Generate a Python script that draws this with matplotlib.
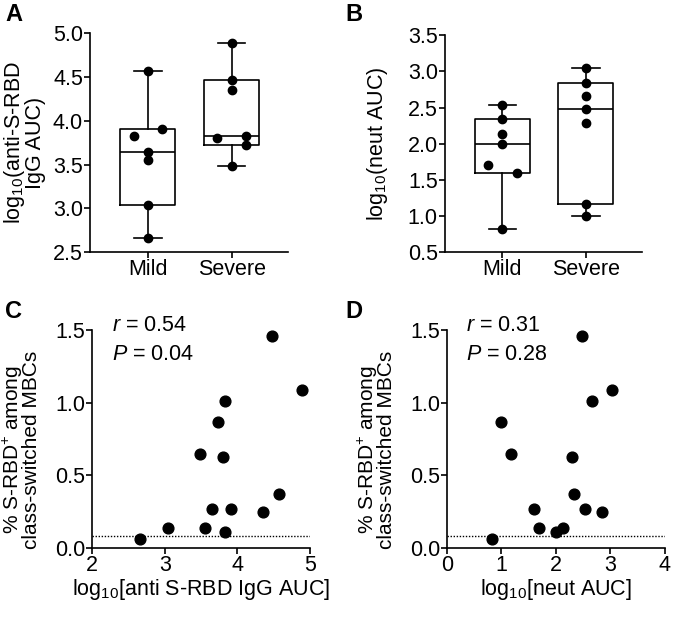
import numpy as np
import matplotlib
matplotlib.use("Agg")
import matplotlib.pyplot as plt

# Data (one entry per donor)
groups = ["Mild", "Severe"]
mild_igg = [2.66, 3.04, 3.55, 3.65, 3.83, 3.91, 4.57]
mild_neut = [0.82, 1.70, 2.14, 1.60, 2.00, 2.53, 2.34]
mild_pct = [0.06, 0.14, 0.14, 0.27, 0.11, 0.27, 0.37]
severe_igg = [3.49, 3.73, 3.80, 3.83, 4.35, 4.47, 4.89]
severe_neut = [1.17, 1.00, 2.29, 2.66, 2.84, 2.48, 3.04]
severe_pct = [0.65, 0.87, 0.63, 1.01, 0.25, 1.46, 1.09]
cutoff = 0.085
stats_c = ("0.54", "0.04")
stats_d = ("0.31", "0.28")

# horizontal nudges so overlapping dots stay visible (style only)
nudge_igg = [[0, 0, 0, 0, -0.17, 0.17, 0], [0, 0.17, -0.17, 0.17, 0, 0, 0]]
nudge_neut = [[0, -0.17, 0, 0.17, 0, 0, 0], [0, 0, 0, 0, 0, 0, 0]]

FS = 15.5
plt.rcParams["font.family"] = ["Liberation Sans", "DejaVu Sans"]
plt.rcParams["mathtext.fontset"] = "custom"
plt.rcParams["mathtext.rm"] = "Liberation Sans"
plt.rcParams["mathtext.it"] = "Liberation Sans:italic"
plt.rcParams["font.size"] = FS

fig = plt.figure(figsize=(6.77, 6.18), dpi=100)


def style(ax):
    ax.spines["top"].set_visible(False)
    ax.spines["right"].set_visible(False)
    for s in ["left", "bottom"]:
        ax.spines[s].set_linewidth(1.2)
    ax.tick_params(width=1.2, length=4, labelsize=FS, pad=1)


def box_panel(ax, data, nudges, ylim, yticks):
    stats = []
    for vals in data:
        v = np.array(vals)
        q1, med, q3 = np.percentile(v, [25, 50, 75], method="weibull")
        stats.append(dict(med=med, q1=q1, q3=q3, whislo=v.min(), whishi=v.max(), fliers=[]))
    ax.bxp(stats, positions=[1, 2], widths=0.66, showfliers=False,
           boxprops=dict(color="black", linewidth=1.2),
           whiskerprops=dict(color="black", linewidth=1.2),
           capprops=dict(color="black", linewidth=1.2),
           medianprops=dict(color="black", linewidth=1.2))
    for i, vals in enumerate(data):
        xs = np.full(len(vals), i + 1.0) + np.array(nudges[i])
        ax.plot(xs, vals, "o", color="black", markersize=6, zorder=3)
    ax.set_xlim(0.31, 2.67)
    ax.set_ylim(*ylim)
    ax.set_yticks(yticks)
    ax.set_yticklabels([f"{t:.1f}" for t in yticks])
    ax.set_xticks([1, 2])
    ax.set_xticklabels(groups)
    style(ax)


# Panel A
axA = fig.add_axes([0.133, 0.592, 0.292, 0.354])
box_panel(axA, [mild_igg, severe_igg], nudge_igg, (2.5, 5.0), np.arange(2.5, 5.01, 0.5))
axA.set_ylabel("log$_{10}$(anti-S-RBD\nIgG AUC)", linespacing=0.85)
axA.yaxis.set_label_coords(-0.225, 0.5)

# Panel B
axB = fig.add_axes([0.657, 0.592, 0.291, 0.351])
box_panel(axB, [mild_neut, severe_neut], nudge_neut, (0.5, 3.5), np.arange(0.5, 3.51, 0.5))
axB.set_ylabel("log$_{10}$(neut AUC)")
axB.yaxis.set_label_coords(-0.28, 0.5)


def scatter_panel(ax, x, y, xlim, xticks, stats, xlabel, lab_x):
    ax.scatter(x, y, s=60, color="black", zorder=3, clip_on=False)
    ax.axhline(cutoff, color="black", linestyle=(0, (1, 1.2)), linewidth=1.0)
    ax.set_xlim(*xlim)
    ax.set_xticks(xticks)
    ax.set_ylim(0, 1.5)
    ax.set_yticks([0, 0.5, 1.0, 1.5])
    ax.set_yticklabels(["0.0", "0.5", "1.0", "1.5"])
    ax.set_ylabel("% S-RBD$^{+}$ among\nclass-switched MBCs", fontsize=15, linespacing=0.78)
    ax.yaxis.set_label_coords(lab_x, 0.45)
    ax.set_xlabel(xlabel, labelpad=1)
    ax.text(0.09, 1.02, f"$r$ = {stats[0]}", transform=ax.transAxes, fontsize=FS, va="center")
    ax.text(0.09, 0.89, f"$P$ = {stats[1]}", transform=ax.transAxes, fontsize=FS, va="center")
    style(ax)


# Panel C
axC = fig.add_axes([0.136, 0.113, 0.322, 0.353])
scatter_panel(axC, mild_igg + severe_igg, mild_pct + severe_pct, (2, 5), [2, 3, 4, 5],
              stats_c, "log$_{10}$[anti S-RBD IgG AUC]", -0.235)

# Panel D
axD = fig.add_axes([0.660, 0.113, 0.322, 0.353])
scatter_panel(axD, mild_neut + severe_neut, mild_pct + severe_pct, (0, 4), [0, 1, 2, 3, 4],
              stats_d, "log$_{10}$[neut AUC]", -0.235)

# Panel letters
for lab, x, y in [("A", 0.008, 0.995), ("B", 0.51, 0.995), ("C", 0.008, 0.515), ("D", 0.51, 0.515)]:
    fig.text(x, y, lab, fontsize=17, fontweight="bold", va="top", ha="left")

fig.savefig("out.png", dpi=100)
